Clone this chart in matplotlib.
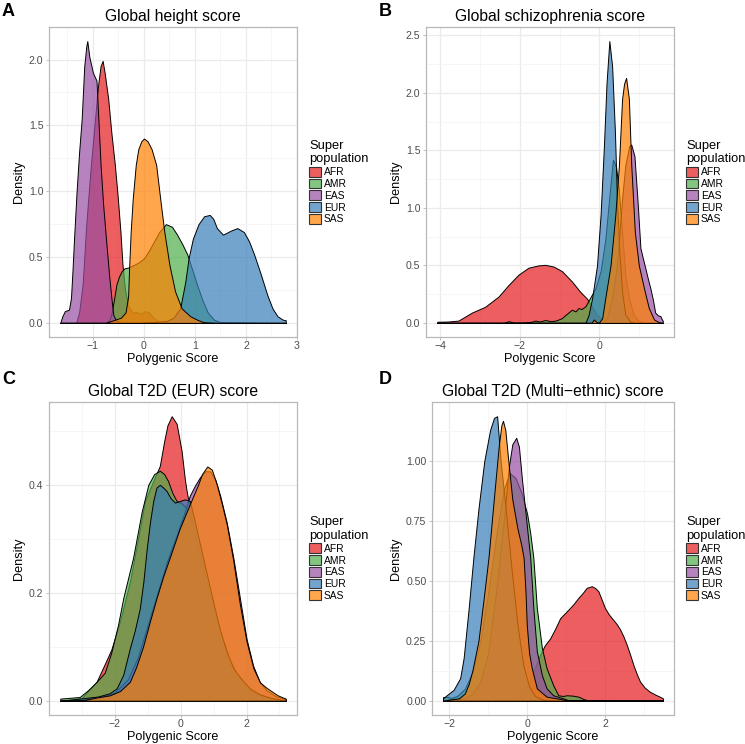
import matplotlib
matplotlib.use('Agg')
import matplotlib.pyplot as plt
from matplotlib.patches import Patch
from matplotlib.colors import to_rgba
import numpy as np

plt.rcParams['font.family'] = ['Liberation Sans', 'DejaVu Sans']

POPS = ['AFR', 'AMR', 'EAS', 'EUR', 'SAS']
COLORS = ['#E41A1C', '#4DAF4A', '#984EA3', '#377EB8', '#FF7F00']
ALPHA = 0.7

# ---------------- Panel A: Global height score ----------------
A_AFR_x = [-1.64, -1.33, -1.27, -1.20, -1.13, -1.05, -0.97, -0.90, -0.85, -0.81, -0.77, -0.70, -0.64, -0.57,
           -0.51, -0.46, -0.42, -0.37, -0.30, -0.22, -0.12, -0.05, 0.02, 0.10, 0.18, 0.30, 0.50, 2.78]
A_AFR_y = [0, 0, 0.08, 0.30, 0.75, 1.15, 1.50, 1.80, 1.95, 1.99, 1.90, 1.70, 1.45, 1.20,
           0.94, 0.69, 0.44, 0.25, 0.12, 0.08, 0.08, 0.07, 0.09, 0.08, 0.04, 0.01, 0, 0]
A_AMR_x = [-1.64, -0.75, -0.68, -0.64, -0.59, -0.54, -0.49, -0.44, -0.38, -0.31, -0.20, -0.10, 0.0, 0.10,
           0.20, 0.30, 0.43, 0.55, 0.65, 0.75, 0.85, 0.95, 1.05, 1.15, 1.25, 1.37, 1.50, 2.78]
A_AMR_y = [0, 0, 0.02, 0.06, 0.17, 0.29, 0.35, 0.39, 0.415, 0.42, 0.44, 0.46, 0.49, 0.55,
           0.62, 0.69, 0.75, 0.73, 0.67, 0.60, 0.52, 0.40, 0.28, 0.17, 0.08, 0.025, 0.005, 0]
A_EAS_x = [-1.64, -1.60, -1.55, -1.47, -1.43, -1.40, -1.37, -1.32, -1.27, -1.22, -1.17, -1.13, -1.11,
           -1.07, -1.00, -0.93, -0.90, -0.85, -0.80, -0.74, -0.68, -0.63, -0.60, -0.55, -0.45, 2.78]
A_EAS_y = [0, 0.05, 0.09, 0.10, 0.19, 0.40, 0.64, 1.00, 1.30, 1.55, 1.95, 2.10, 2.14,
           2.02, 1.90, 1.84, 1.60, 1.20, 0.90, 0.62, 0.35, 0.16, 0.06, 0.02, 0, 0]
A_EUR_x = [-1.64, -0.10, 0.10, 0.30, 0.45, 0.58, 0.71, 0.81, 0.875, 0.96, 1.07, 1.18, 1.29, 1.36, 1.43,
           1.55, 1.70, 1.83, 1.96, 2.06, 2.16, 2.29, 2.42, 2.52, 2.62, 2.72, 2.78]
A_EUR_y = [0, 0, 0.005, 0.01, 0.015, 0.04, 0.11, 0.31, 0.49, 0.64, 0.75, 0.81, 0.82, 0.79, 0.72,
           0.67, 0.70, 0.72, 0.69, 0.62, 0.52, 0.37, 0.21, 0.11, 0.05, 0.025, 0.02]
A_SAS_x = [-1.64, -0.75, -0.60, -0.45, -0.36, -0.31, -0.29, -0.26, -0.22, -0.16, -0.11, -0.05, 0.0, 0.07,
           0.15, 0.24, 0.32, 0.40, 0.50, 0.61, 0.74, 0.91, 1.04, 1.17, 1.40, 2.78]
A_SAS_y = [0, 0, 0.02, 0.04, 0.08, 0.20, 0.42, 0.69, 0.94, 1.20, 1.32, 1.38, 1.40, 1.38,
           1.32, 1.20, 0.94, 0.69, 0.44, 0.24, 0.11, 0.05, 0.025, 0.005, 0, 0]

# ---------------- Panel B: Global schizophrenia score ----------------
B_AFR_x = [-4.07, -3.80, -3.54, -3.20, -2.87, -2.53, -2.28, -2.03, -1.78, -1.53, -1.36, -1.15, -0.94,
           -0.69, -0.48, -0.31, -0.18, -0.06, 0.07, 0.23, 0.40, 1.59]
B_AFR_y = [0.01, 0.012, 0.02, 0.09, 0.14, 0.23, 0.33, 0.42, 0.48, 0.50, 0.505, 0.49, 0.45,
           0.36, 0.27, 0.21, 0.14, 0.07, 0.03, 0.01, 0, 0]
B_AMR_x = [-4.07, -2.40, -2.28, -2.15, -1.90, -1.70, -1.61, -1.50, -1.36, -1.22, -1.10, -0.95, -0.85,
           -0.69, -0.60, -0.52, -0.45, -0.35, -0.23, -0.10, 0.03, 0.15, 0.25, 0.34, 0.42, 0.49, 0.57,
           0.65, 0.74, 0.86, 0.99, 1.10, 1.59]
B_AMR_y = [0, 0, 0.015, 0.003, 0.003, 0.01, 0.02, 0.012, 0.025, 0.015, 0.02, 0.04, 0.07,
           0.115, 0.10, 0.13, 0.12, 0.145, 0.22, 0.30, 0.45, 0.73, 1.10, 1.42, 1.35, 1.15, 0.79,
           0.42, 0.22, 0.07, 0.015, 0, 0]
B_EAS_x = [-4.07, 0.10, 0.20, 0.32, 0.44, 0.57, 0.65, 0.75, 0.80, 0.88, 0.95, 1.03, 1.10, 1.15, 1.22,
           1.28, 1.35, 1.40, 1.47, 1.53, 1.57, 1.59]
B_EAS_y = [0, 0, 0.05, 0.22, 0.50, 1.08, 1.37, 1.54, 1.55, 1.45, 1.10, 0.65, 0.55, 0.48, 0.38,
           0.30, 0.19, 0.09, 0.065, 0.06, 0.03, 0.02]
B_EUR_x = [-4.07, -0.35, -0.27, -0.18, -0.06, 0.03, 0.11, 0.18, 0.25, 0.32, 0.39, 0.44, 0.50, 0.57,
           0.65, 0.78, 0.90, 1.59]
B_EUR_y = [0, 0, 0.07, 0.22, 0.50, 0.94, 1.51, 2.09, 2.45, 2.23, 1.66, 1.08, 0.62, 0.27,
           0.07, 0.01, 0, 0]
B_SAS_x = [-4.07, -0.20, -0.14, -0.08, -0.02, 0.07, 0.15, 0.28, 0.40, 0.49, 0.57, 0.62, 0.67, 0.74,
           0.80, 0.89, 0.99, 1.12, 1.24, 1.37, 1.50, 1.59]
B_SAS_y = [0, 0, 0.03, 0.01, 0.0, 0.04, 0.22, 0.50, 0.94, 1.37, 1.95, 2.08, 2.13, 1.95,
           1.37, 0.79, 0.50, 0.30, 0.13, 0.03, 0.005, 0]

# ---------------- Panel C: Global T2D (EUR) score ----------------
C_AFR_x = [-3.65, -3.00, -2.55, -2.30, -2.10, -1.84, -1.54, -1.29, -1.08, -0.78, -0.63, -0.50, -0.40,
           -0.27, -0.12, 0.03, 0.13, 0.18, 0.30, 0.45, 0.60, 0.80, 1.00, 1.20, 1.40, 1.60, 1.85, 2.10,
           2.30, 2.50, 2.80, 3.19]
C_AFR_y = [0, 0.005, 0.035, 0.068, 0.095, 0.147, 0.22, 0.30, 0.37, 0.414, 0.435, 0.48, 0.51,
           0.527, 0.513, 0.463, 0.41, 0.39, 0.35, 0.30, 0.26, 0.20, 0.15, 0.11, 0.075, 0.05, 0.03, 0.017,
           0.015, 0.01, 0.004, 0]
C_AMR_x = [-3.65, -3.06, -2.80, -2.55, -2.30, -2.10, -1.90, -1.74, -1.44, -1.18, -0.98, -0.80, -0.63,
           -0.50, -0.38, -0.25, -0.12, 0.05, 0.20, 0.40, 0.60, 0.80, 1.00, 1.25, 1.50, 1.75, 2.00, 2.30,
           2.60, 3.19]
C_AMR_y = [0.004, 0.007, 0.02, 0.035, 0.052, 0.09, 0.14, 0.19, 0.265, 0.35, 0.40, 0.42, 0.426,
           0.42, 0.407, 0.385, 0.37, 0.365, 0.355, 0.32, 0.27, 0.22, 0.17, 0.12, 0.075, 0.045, 0.025, 0.012,
           0.006, 0]
C_EAS_x = [-3.65, -3.00, -2.50, -2.00, -1.60, -1.30, -1.00, -0.70, -0.40, -0.10, 0.10, 0.28, 0.45,
           0.59, 0.75, 0.90, 1.05, 1.20, 1.40, 1.60, 1.80, 2.00, 2.20, 2.40, 2.60, 2.90, 3.19]
C_EAS_y = [0, 0.002, 0.006, 0.015, 0.04, 0.08, 0.14, 0.20, 0.26, 0.31, 0.345, 0.38, 0.40,
           0.414, 0.425, 0.425, 0.41, 0.38, 0.33, 0.265, 0.19, 0.115, 0.065, 0.035, 0.02, 0.008, 0.003]
C_EUR_x = [-3.65, -3.06, -2.50, -2.15, -1.94, -1.74, -1.54, -1.39, -1.24, -1.13, -1.03, -0.93, -0.83,
           -0.73, -0.63, -0.53, -0.43, -0.30, -0.17, -0.02, 0.13, 0.28, 0.40, 0.55, 0.70, 0.85, 1.00,
           1.20, 1.40, 1.60, 1.85, 2.10, 2.40, 2.70, 3.19]
C_EUR_y = [0, 0.004, 0.008, 0.014, 0.023, 0.048, 0.097, 0.13, 0.17, 0.22, 0.28, 0.33, 0.37,
           0.395, 0.40, 0.395, 0.389, 0.375, 0.367, 0.37, 0.373, 0.37, 0.34, 0.30, 0.26, 0.22, 0.18,
           0.13, 0.09, 0.06, 0.04, 0.023, 0.012, 0.006, 0]
C_SAS_x = [-3.65, -2.96, -2.55, -2.15, -1.84, -1.54, -1.35, -1.14, -0.94, -0.73, -0.53, -0.33, -0.02,
           0.28, 0.53, 0.65, 0.81, 0.95, 1.10, 1.25, 1.40, 1.60, 1.80, 2.00, 2.21, 2.41, 2.61, 2.80,
           2.95, 3.19]
C_SAS_y = [0, 0.001, 0.006, 0.01, 0.018, 0.035, 0.062, 0.10, 0.145, 0.19, 0.23, 0.265, 0.32,
           0.364, 0.40, 0.42, 0.434, 0.428, 0.40, 0.365, 0.327, 0.259, 0.178, 0.11, 0.06, 0.034, 0.024, 0.016,
           0.01, 0.004]

# ---------------- Panel D: Global T2D (Multi-ethnic) score ----------------
D_AFR_x = [-2.16, -0.60, -0.40, -0.20, 0.0, 0.15, 0.33, 0.45, 0.59, 0.72, 0.85, 1.00, 1.10, 1.20, 1.32,
           1.43, 1.53, 1.66, 1.75, 1.83, 1.92, 2.00, 2.10, 2.21, 2.30, 2.38, 2.47, 2.56, 2.65, 2.73,
           2.82, 2.90, 3.02, 3.15, 3.30, 3.41, 3.49]
D_AFR_y = [0, 0, 0.005, 0.02, 0.06, 0.12, 0.19, 0.23, 0.26, 0.30, 0.345, 0.37, 0.387, 0.405, 0.43,
           0.45, 0.471, 0.478, 0.47, 0.457, 0.42, 0.387, 0.36, 0.338, 0.32, 0.30, 0.27, 0.233, 0.19, 0.149,
           0.11, 0.08, 0.055, 0.038, 0.025, 0.017, 0.01]
D_AMR_x = [-2.16, -2.05, -1.95, -1.80, -1.60, -1.40, -1.20, -1.00, -0.80, -0.60, -0.45, -0.30, -0.15,
           0.0, 0.08, 0.16, 0.25, 0.38, 0.50, 0.67, 0.80, 0.92, 1.02, 1.12, 1.19, 1.32, 1.45, 1.60, 3.49]
D_AMR_y = [0.015, 0.017, 0.012, 0.02, 0.05, 0.12, 0.25, 0.45, 0.68, 0.88, 0.95, 0.93, 0.87,
           0.78, 0.70, 0.597, 0.387, 0.22, 0.136, 0.065, 0.023, 0.02, 0.023, 0.022, 0.021, 0.017, 0.007, 0, 0]
D_EAS_x = [-2.16, -1.60, -1.40, -1.20, -1.00, -0.80, -0.60, -0.47, -0.38, -0.28, -0.21, -0.13, 0.0,
           0.08, 0.16, 0.25, 0.38, 0.50, 0.67, 0.93, 1.10, 3.49]
D_EAS_y = [0, 0.01, 0.03, 0.08, 0.20, 0.45, 0.75, 0.975, 1.07, 1.097, 1.06, 0.92, 0.72,
           0.597, 0.387, 0.206, 0.107, 0.052, 0.023, 0.01, 0, 0]
D_EUR_x = [-2.16, -2.06, -1.89, -1.72, -1.63, -1.50, -1.38, -1.25, -1.10, -0.95, -0.85, -0.77, -0.68,
           -0.55, -0.40, -0.25, -0.10, 0.05, 0.20, 0.40, 0.60, 3.49]
D_EUR_y = [0.01, 0.024, 0.045, 0.094, 0.178, 0.387, 0.597, 0.80, 1.00, 1.13, 1.18, 1.187, 1.00,
           0.80, 0.55, 0.32, 0.15, 0.06, 0.02, 0.005, 0, 0]
D_SAS_x = [-2.16, -2.00, -1.75, -1.60, -1.50, -1.40, -1.25, -1.12, -0.99, -0.85, -0.73, -0.66, -0.62,
           -0.56, -0.47, -0.38, -0.25, -0.15, -0.09, -0.04, -0.01, 0.05, 0.12, 0.25, 0.50, 0.76, 1.00, 3.49]
D_SAS_y = [0, 0.005, 0.01, 0.03, 0.07, 0.13, 0.25, 0.42, 0.60, 0.85, 1.06, 1.15, 1.168,
           1.13, 0.98, 0.84, 0.72, 0.65, 0.597, 0.45, 0.32, 0.20, 0.136, 0.052, 0.017, 0.01, 0.003, 0]

PANELS = [
    dict(letter='A', title='Global height score',
         series=[(A_AFR_x, A_AFR_y), (A_AMR_x, A_AMR_y), (A_EAS_x, A_EAS_y), (A_EUR_x, A_EUR_y), (A_SAS_x, A_SAS_y)],
         xticks=[-1, 0, 1, 2, 3], xlabels=['\u22121', '0', '1', '2', '3'], xminor=[-1.5, -0.5, 0.5, 1.5, 2.5],
         yticks=[0, 0.5, 1.0, 1.5, 2.0], ylabels=['0.0', '0.5', '1.0', '1.5', '2.0'], yminor=[0.25, 0.75, 1.25, 1.75],
         rect=[49, 27, 297, 337]),
    dict(letter='B', title='Global schizophrenia score',
         series=[(B_AFR_x, B_AFR_y), (B_AMR_x, B_AMR_y), (B_EAS_x, B_EAS_y), (B_EUR_x, B_EUR_y), (B_SAS_x, B_SAS_y)],
         xticks=[-4, -2, 0], xlabels=['\u22124', '\u22122', '0'], xminor=[-3, -1, 1],
         yticks=[0, 0.5, 1.0, 1.5, 2.0, 2.5], ylabels=['0.0', '0.5', '1.0', '1.5', '2.0', '2.5'],
         yminor=[0.25, 0.75, 1.25, 1.75, 2.25],
         rect=[426, 27, 674, 337]),
    dict(letter='C', title='Global T2D (EUR) score',
         series=[(C_AFR_x, C_AFR_y), (C_AMR_x, C_AMR_y), (C_EAS_x, C_EAS_y), (C_EUR_x, C_EUR_y), (C_SAS_x, C_SAS_y)],
         xticks=[-2, 0, 2], xlabels=['\u22122', '0', '2'], xminor=[-3, -1, 1, 3],
         yticks=[0, 0.2, 0.4], ylabels=['0.0', '0.2', '0.4'], yminor=[0.1, 0.3, 0.5],
         rect=[49, 402, 297, 715]),
    dict(letter='D', title='Global T2D (Multi\u2212ethnic) score',
         series=[(D_AFR_x, D_AFR_y), (D_AMR_x, D_AMR_y), (D_EAS_x, D_EAS_y), (D_EUR_x, D_EUR_y), (D_SAS_x, D_SAS_y)],
         xticks=[-2, 0, 2], xlabels=['\u22122', '0', '2'], xminor=[-1, 1, 3],
         yticks=[0, 0.25, 0.5, 0.75, 1.0], ylabels=['0.00', '0.25', '0.50', '0.75', '1.00'],
         yminor=[0.125, 0.375, 0.625, 0.875, 1.125],
         rect=[432, 402, 674, 715]),
]

W, H = 745, 744
fig = plt.figure(figsize=(W / 100, H / 100), dpi=100)

GRID_MAJ = '#EBEBEB'
GRID_MIN = '#F5F5F5'
BORDER = '#B8B8B8'
TICKCOL = '#4D4D4D'

letter_pos = {'A': (2, 3), 'B': (379, 3), 'C': (2, 371), 'D': (379, 371)}

for p in PANELS:
    l, t, r, b = p['rect']
    wpx, hpx = r - l, b - t
    ax = fig.add_axes([l / W, 1 - b / H, wpx / W, hpx / H])
    allx = np.concatenate([np.asarray(s[0], float) for s in p['series']])
    ally = np.concatenate([np.asarray(s[1], float) for s in p['series']])
    for (x, y), c in zip(p['series'], COLORS):
        ax.fill_between(x, y, 0, facecolor=to_rgba(c, ALPHA), edgecolor='black', linewidth=0.7, zorder=2)
    xr = allx.max() - allx.min()
    ax.set_xlim(allx.min() - 0.05 * xr, allx.max() + 0.05 * xr)
    ym = ally.max()
    ax.set_ylim(-0.05 * ym, 1.05 * ym)
    ax.set_xticks(p['xticks'])
    ax.set_xticklabels(p['xlabels'])
    ax.set_yticks(p['yticks'])
    ax.set_yticklabels(p['ylabels'])
    ax.set_xticks(p['xminor'], minor=True)
    ax.set_yticks(p['yminor'], minor=True)
    ax.grid(which='major', color=GRID_MAJ, linewidth=0.9)
    ax.grid(which='minor', color=GRID_MIN, linewidth=0.6)
    ax.set_axisbelow(True)
    ax.tick_params(which='major', length=2.5, width=0.6, color=BORDER, labelsize=7.6,
                   labelcolor=TICKCOL)
    ax.tick_params(axis='x', which='major', pad=0.5)
    ax.tick_params(axis='y', which='major', pad=1.5)
    ax.tick_params(which='minor', length=0)
    for sp in ax.spines.values():
        sp.set_color(BORDER)
        sp.set_linewidth(0.9)
    ax.set_title(p['title'], fontsize=11.3, pad=4)
    ax.set_xlabel('Polygenic Score', fontsize=9.1)
    ax.xaxis.label.set_va('center')
    ax.xaxis.set_label_coords(0.5, -22 / hpx)
    ax.set_ylabel('Density', fontsize=9.1, labelpad=3)

    handles = [Patch(facecolor=to_rgba(c, ALPHA), edgecolor='#333333', linewidth=0.8) for c in COLORS]
    leg = ax.legend(handles, POPS, title='Super\npopulation', loc='center left',
                    bbox_to_anchor=(1 + 12 / wpx, 0.5), borderaxespad=0, borderpad=0,
                    frameon=False, fontsize=7.4, title_fontsize=9.3,
                    handlelength=1.15, handleheight=1.1, labelspacing=0.13,
                    handletextpad=0.3, alignment='left')

    lx, ly = letter_pos[p['letter']]
    fig.text(lx / W, 1 - ly / H, p['letter'], fontsize=13, fontweight='bold', va='top', ha='left')

fig.savefig('out.png', dpi=100)
